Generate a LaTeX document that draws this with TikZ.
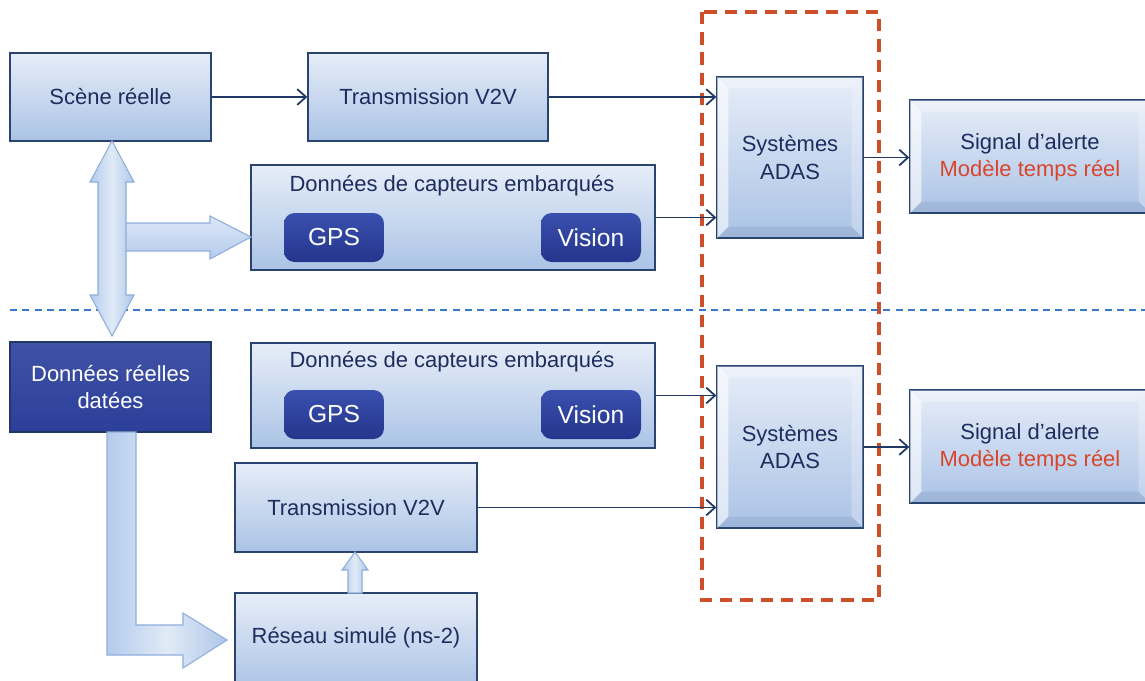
\documentclass[tikz,border=0pt]{standalone}
\usepackage{fontspec}
\setmainfont{Liberation Sans}
\usetikzlibrary{arrows.meta,calc}
\definecolor{navy}{HTML}{1F3864}
\definecolor{txtnavy}{HTML}{1E2D5E}
\definecolor{boxline}{HTML}{2A4470}
\definecolor{boxtop}{HTML}{E6EDF8}
\definecolor{boxbot}{HTML}{ABC3E6}
\definecolor{btntop}{HTML}{3A50AE}
\definecolor{btnbot}{HTML}{24358C}
\definecolor{darkbox}{HTML}{2B3F9B}
\definecolor{alertred}{HTML}{D9452B}
\definecolor{dashred}{HTML}{CC4F2A}
\definecolor{dashblue}{HTML}{3C78C8}
\definecolor{arrowfill}{HTML}{B3CBEC}
\definecolor{arrowline}{HTML}{8EAEDA}
\tikzset{
  box/.style={draw=boxline, line width=0.8pt, top color=boxtop, bottom color=boxbot,
    text=txtnavy, font=\fontsize{12.5}{15.5}\selectfont, align=center, inner sep=0pt},
  btn/.style={rounded corners=6pt, top color=btntop, bottom color=btnbot, draw=none,
    text=white, font=\fontsize{14}{16}\selectfont, minimum width=2cm, minimum height=0.98cm, inner sep=0pt},
  conn/.style={draw=navy, line width=1pt, -{Straight Barb[length=5pt,width=9pt]}},
  fat/.style={top color=arrowfill!45!white, bottom color=arrowfill, draw=arrowline, line width=0.6pt},
  fatv/.style={left color=arrowfill, right color=arrowfill!80!black!10!arrowfill, middle color=arrowfill!40!white, draw=arrowline, line width=0.6pt},
  lbl/.style={text=txtnavy, font=\fontsize{12.5}{15.5}\selectfont, inner sep=0pt},
}
\newcommand\bevelbox[1]{%
  \fill[white,opacity=0.6] (#1.north west) -- ($(#1.north west)+(12,12)$) -- ($(#1.south west)+(12,-12)$) -- (#1.south west) -- cycle;
  \fill[white,opacity=0.30] (#1.north west) -- (#1.north east) -- ($(#1.north east)+(-12,12)$) -- ($(#1.north west)+(12,12)$) -- cycle;
  \fill[white,opacity=0.25] (#1.north east) -- (#1.south east) -- ($(#1.south east)+(-12,-12)$) -- ($(#1.north east)+(-12,12)$) -- cycle;
  \fill[boxline,opacity=0.10] (#1.south west) -- (#1.south east) -- ($(#1.south east)+(-12,-12)$) -- ($(#1.south west)+(12,-12)$) -- cycle;
  \draw[boxline, line width=0.8pt] (#1.north west) rectangle (#1.south east);
}
\begin{document}
\begin{tikzpicture}[x=0.02cm,y=-0.02cm]
\useasboundingbox (0,0) rectangle (1145,680);
\clip (0,0) rectangle (1145,680);

% red dashed frame and blue separator
\draw[dashred, line width=1.9pt, dash pattern=on 7pt off 4.5pt] (702,12) rectangle (879,600);
\draw[dashblue, line width=1pt, dash pattern=on 4pt off 3pt] (10,310) -- (1145,310);

% ---------- top half ----------
\node[box, minimum width=4.02cm, minimum height=1.76cm] (scene) at (110.5,97) {Scène réelle};
\node[box, minimum width=4.8cm, minimum height=1.76cm] (trans1) at (428,97) {Transmission V2V};
\node[box, minimum width=8.08cm, minimum height=2.1cm] (capt1) at (453,217.5) {};
\node[lbl] (capt1t) at (452,186) {Données de capteurs embarqués};
\node[btn] (gps1) at (334,237.5) {GPS};
\node[btn] (vis1) at (591,237.5) {Vision};
\node[box, minimum width=2.92cm, minimum height=3.22cm] (adas1) at (790,157.5) {};
\bevelbox{adas1}
\node[lbl, align=center] (adas1t) at (adas1) {Systèmes\\ADAS};
\node[box, minimum width=4.8cm, minimum height=2.26cm] (sig1) at (1030,156.5) {};
\bevelbox{sig1}
\node[lbl, align=center] (sig1t) at (1030,157) {Signal d’alerte\\\textcolor{alertred}{Modèle temps réel}};

% ---------- bottom half ----------
\node[box, draw=navy, top color=darkbox!90!white, bottom color=darkbox, text=white, minimum width=4.02cm, minimum height=1.8cm] (datees) at (110.5,387) {Données réelles\\datées};
\node[box, minimum width=8.08cm, minimum height=2.1cm] (capt2) at (453,395.5) {};
\node[lbl] (capt2t) at (452,362) {Données de capteurs embarqués};
\node[btn] (gps2) at (334,414.5) {GPS};
\node[btn] (vis2) at (591,414.5) {Vision};
\node[box, minimum width=4.84cm, minimum height=1.78cm] (trans2) at (356,507.5) {Transmission V2V};
\node[box, minimum width=4.84cm, minimum height=1.94cm] (reseau) at (356,641.5) {};
\node[lbl] (reseaut) at (356,638) {Réseau simulé (ns-2)};
\node[box, minimum width=2.92cm, minimum height=3.24cm] (adas2) at (790,447) {};
\bevelbox{adas2}
\node[lbl, align=center] (adas2t) at (adas2) {Systèmes\\ADAS};
\node[box, minimum width=4.8cm, minimum height=2.26cm] (sig2) at (1030,446.5) {};
\bevelbox{sig2}
\node[lbl, align=center] (sig2t) at (1030,447) {Signal d’alerte\\\textcolor{alertred}{Modèle temps réel}};

% ---------- thin connectors ----------
\draw[conn] (scene) -- (trans1);
\draw[conn] (trans1.east) -- (adas1.west |- trans1.east);
\draw[conn] (capt1.east) -- (adas1.west |- capt1.east);
\draw[conn] (adas1.east) -- (sig1.west |- adas1.east);
\draw[conn] (capt2.east) -- (adas2.west |- capt2.east);
\draw[conn] (trans2.east) -- (adas2.west |- trans2.east);
\draw[conn] (adas2.east) -- (sig2.west |- adas2.east);

% ---------- fat arrows ----------
\draw[fat] (120,223) -- (210,223) -- (210,216) -- (251,237) -- (210,259) -- (210,251) -- (120,251) -- cycle;
\draw[fatv] (112,141) -- (134,182) -- (126,182) -- (126,295) -- (134,295) -- (112,336)
  -- (90,295) -- (98,295) -- (98,182) -- (90,182) -- cycle;
\draw[fatv] (107,432) -- (136,432) -- (136,625) -- (183,625) -- (183,613) -- (227,640)
  -- (183,668) -- (183,655) -- (107,655) -- cycle;
\draw[fatv] (348,593) -- (362,593) -- (362,570) -- (368,570) -- (355,552) -- (342,570) -- (348,570) -- cycle;
\end{tikzpicture}
\end{document}
